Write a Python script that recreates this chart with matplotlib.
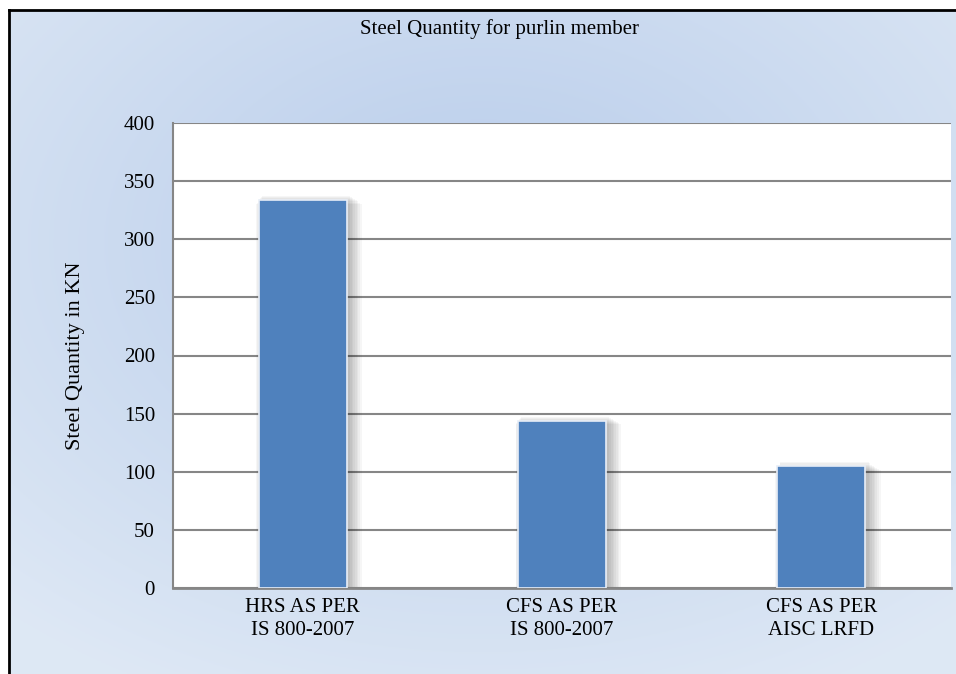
import numpy as np
import matplotlib
matplotlib.use("Agg")
import matplotlib.pyplot as plt
from matplotlib.patches import Rectangle
from matplotlib.lines import Line2D

# Steel quantity per design approach (kN)
categories = ["HRS AS PER\nIS 800-2007", "CFS AS PER\nIS 800-2007", "CFS AS PER\nAISC LRFD"]
quantities = [334, 144, 105]
y_ticks = [0, 50, 100, 150, 200, 250, 300, 350, 400]

plt.rcParams['font.family'] = ['Liberation Serif', 'DejaVu Serif']

fig = plt.figure(figsize=(9.56, 6.74), dpi=100)
fig.patch.set_facecolor('white')

# gradient panel behind the chart
bg = fig.add_axes([9 / 956, 0, 1 - 9 / 956, 1 - 10 / 674])
bg.set_axis_off()
ny, nx = 300, 400
yy, xx = np.mgrid[0:ny, 0:nx]
cx, cy = nx * 0.5, ny * 0.35
d = np.sqrt(((xx - cx) / nx) ** 2 + ((yy - cy) / ny) ** 2)
d = np.clip(d / 0.75, 0, 1)
inner = np.array([0.72, 0.80, 0.92])
outer = np.array([0.87, 0.91, 0.96])
img = inner[None, None, :] * (1 - d[..., None]) + outer[None, None, :] * d[..., None]
bg.imshow(img, aspect='auto', extent=[0, 1, 0, 1], origin='upper')
bg.set_xlim(0, 1)
bg.set_ylim(0, 1)

# frame lines (top and left)
fig.add_artist(Line2D([8.5 / 956, 1], [1 - 9.5 / 674, 1 - 9.5 / 674], color='black', lw=2, transform=fig.transFigure))
fig.add_artist(Line2D([8.5 / 956, 8.5 / 956], [0, 1 - 9.5 / 674], color='black', lw=2, transform=fig.transFigure))

ax = fig.add_axes([173 / 956, 1 - 588 / 674, (951 - 173) / 956, (588 - 123) / 674])
ax.set_facecolor('white')

x = np.arange(len(categories))
width = 0.34

# soft glow-like shadow around each bar, heavier on the right
for xi, q in zip(x, quantities):
    for k in range(8):
        grow = 0.006 * k
        ax.add_patch(Rectangle((xi - width / 2 - grow * 0.5 + 0.012, 0),
                               width + grow * 1.6, q + 3 - k * 0.9,
                               facecolor='black', edgecolor='none', alpha=0.035, zorder=2))

ax.bar(x, quantities, width=width, color='#4F81BD', edgecolor='#E8EEF7', linewidth=1.2, zorder=3)

ax.set_ylim(0, 400)
ax.set_xlim(-0.5, 2.5)
ax.set_yticks(y_ticks)
ax.set_xticks(x)
ax.set_xticklabels(categories, fontsize=15, linespacing=1.3)
ax.tick_params(axis='y', labelsize=15, length=0, pad=13)
ax.tick_params(axis='x', length=0, pad=7)
ax.yaxis.grid(True, color='#868686', linewidth=1.5, zorder=1)
ax.set_axisbelow(True)

for s in ['top', 'right']:
    ax.spines[s].set_visible(False)
ax.spines['left'].set_color('#868686')
ax.spines['left'].set_linewidth(1.5)
ax.spines['bottom'].set_color('#868686')
ax.spines['bottom'].set_linewidth(2)

ax.set_ylabel('Steel Quantity in KN', fontsize=16, labelpad=28)
fig.text(500 / 956, 1 - 29 / 674, 'Steel Quantity for purlin member', ha='center', va='center', fontsize=15)

fig.savefig('out.png', dpi=100)
